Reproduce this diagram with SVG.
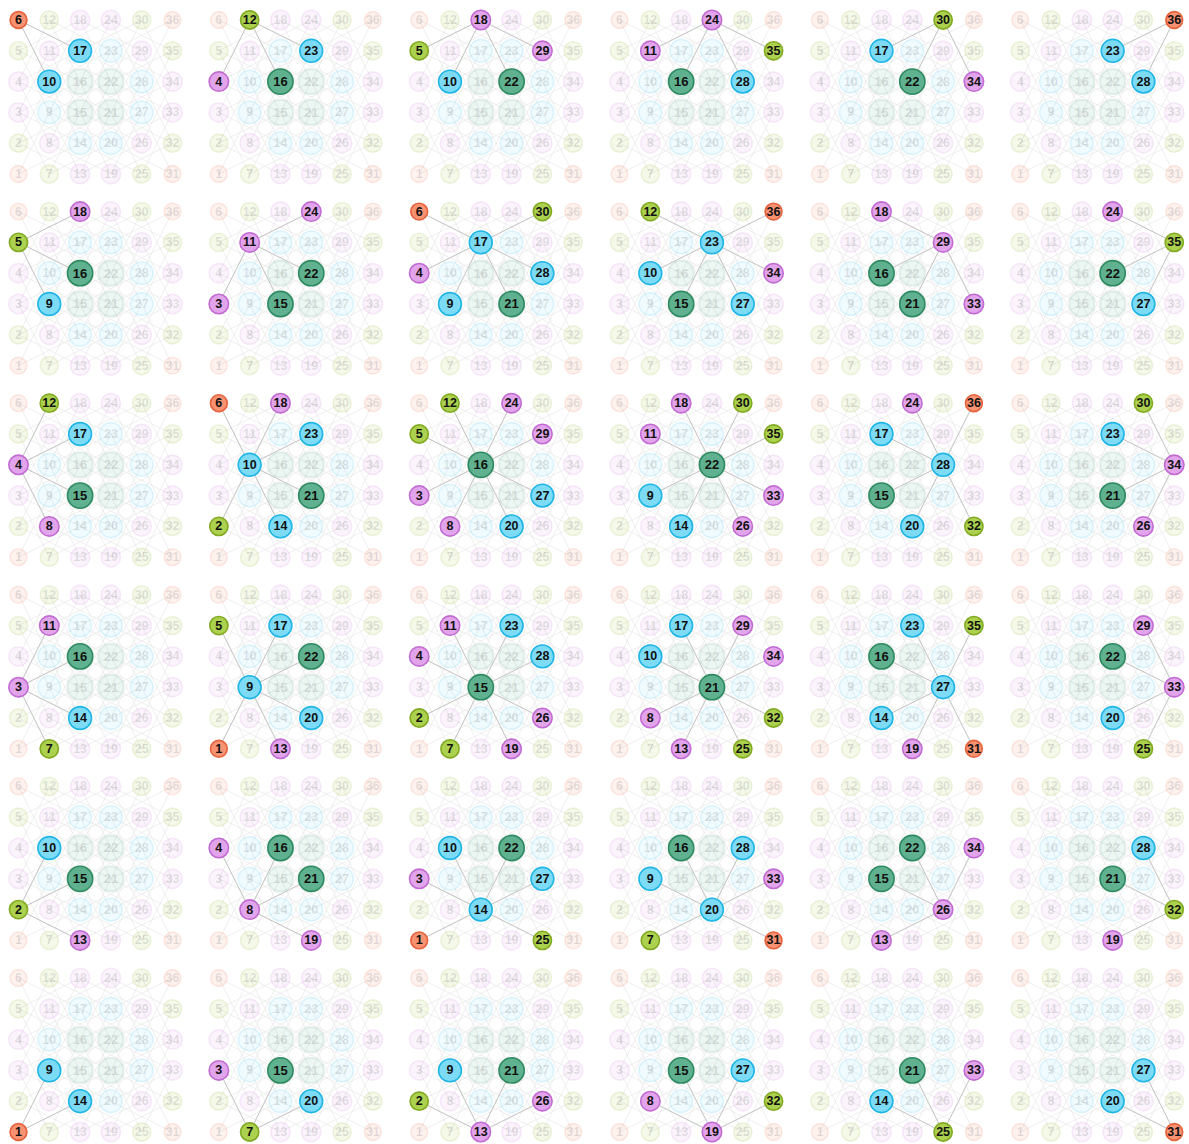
<svg xmlns="http://www.w3.org/2000/svg" width="1189" height="1144" viewBox="0 0 1189 1144">
<style>
text{font-family:"Liberation Sans",Arial,sans-serif;font-weight:bold;font-size:12.5px;text-anchor:middle;dominant-baseline:central;fill:#111}
circle{stroke-width:1.6}
.d2 circle{fill:#f79273;stroke:#e5623c}
.d3 circle{fill:#acd14e;stroke:#82aa22}
.d4 circle{fill:#e2a4ea;stroke:#c26cd3}
.d6 circle{fill:#7edbf6;stroke:#1fb5e5}
.d8 circle{fill:#60b190;stroke:#2c8a60}
.d8 text{font-size:13px}
.f{fill-opacity:.12;stroke-opacity:.13}
.bge{fill:none;stroke:#e6e6e6;stroke-width:.9;stroke-opacity:.7}
.he{fill:none;stroke:#c0c0c0;stroke-width:.9}
</style>
<defs>
<g id="n1" class="d2"><circle cx="18.5" cy="174" r="8.4"/><text x="18.5" y="174">1</text></g>
<g id="n2" class="d3"><circle cx="18.5" cy="143.2" r="9.1"/><text x="18.5" y="143.2">2</text></g>
<g id="n3" class="d4"><circle cx="18.5" cy="112.4" r="9.7"/><text x="18.5" y="112.4">3</text></g>
<g id="n4" class="d4"><circle cx="18.5" cy="81.6" r="9.7"/><text x="18.5" y="81.6">4</text></g>
<g id="n5" class="d3"><circle cx="18.5" cy="50.8" r="9.1"/><text x="18.5" y="50.8">5</text></g>
<g id="n6" class="d2"><circle cx="18.5" cy="20" r="8.4"/><text x="18.5" y="20">6</text></g>
<g id="n7" class="d3"><circle cx="49.3" cy="174" r="9.1"/><text x="49.3" y="174">7</text></g>
<g id="n8" class="d4"><circle cx="49.3" cy="143.2" r="9.7"/><text x="49.3" y="143.2">8</text></g>
<g id="n9" class="d6"><circle cx="49.3" cy="112.4" r="11.4"/><text x="49.3" y="112.4">9</text></g>
<g id="n10" class="d6"><circle cx="49.3" cy="81.6" r="11.4"/><text x="49.3" y="81.6">10</text></g>
<g id="n11" class="d4"><circle cx="49.3" cy="50.8" r="9.7"/><text x="49.3" y="50.8">11</text></g>
<g id="n12" class="d3"><circle cx="49.3" cy="20" r="9.1"/><text x="49.3" y="20">12</text></g>
<g id="n13" class="d4"><circle cx="80.1" cy="174" r="9.7"/><text x="80.1" y="174">13</text></g>
<g id="n14" class="d6"><circle cx="80.1" cy="143.2" r="11.4"/><text x="80.1" y="143.2">14</text></g>
<g id="n15" class="d8"><circle cx="80.1" cy="112.4" r="12.6"/><text x="80.1" y="112.4">15</text></g>
<g id="n16" class="d8"><circle cx="80.1" cy="81.6" r="12.6"/><text x="80.1" y="81.6">16</text></g>
<g id="n17" class="d6"><circle cx="80.1" cy="50.8" r="11.4"/><text x="80.1" y="50.8">17</text></g>
<g id="n18" class="d4"><circle cx="80.1" cy="20" r="9.7"/><text x="80.1" y="20">18</text></g>
<g id="n19" class="d4"><circle cx="110.9" cy="174" r="9.7"/><text x="110.9" y="174">19</text></g>
<g id="n20" class="d6"><circle cx="110.9" cy="143.2" r="11.4"/><text x="110.9" y="143.2">20</text></g>
<g id="n21" class="d8"><circle cx="110.9" cy="112.4" r="12.6"/><text x="110.9" y="112.4">21</text></g>
<g id="n22" class="d8"><circle cx="110.9" cy="81.6" r="12.6"/><text x="110.9" y="81.6">22</text></g>
<g id="n23" class="d6"><circle cx="110.9" cy="50.8" r="11.4"/><text x="110.9" y="50.8">23</text></g>
<g id="n24" class="d4"><circle cx="110.9" cy="20" r="9.7"/><text x="110.9" y="20">24</text></g>
<g id="n25" class="d3"><circle cx="141.7" cy="174" r="9.1"/><text x="141.7" y="174">25</text></g>
<g id="n26" class="d4"><circle cx="141.7" cy="143.2" r="9.7"/><text x="141.7" y="143.2">26</text></g>
<g id="n27" class="d6"><circle cx="141.7" cy="112.4" r="11.4"/><text x="141.7" y="112.4">27</text></g>
<g id="n28" class="d6"><circle cx="141.7" cy="81.6" r="11.4"/><text x="141.7" y="81.6">28</text></g>
<g id="n29" class="d4"><circle cx="141.7" cy="50.8" r="9.7"/><text x="141.7" y="50.8">29</text></g>
<g id="n30" class="d3"><circle cx="141.7" cy="20" r="9.1"/><text x="141.7" y="20">30</text></g>
<g id="n31" class="d2"><circle cx="172.5" cy="174" r="8.4"/><text x="172.5" y="174">31</text></g>
<g id="n32" class="d3"><circle cx="172.5" cy="143.2" r="9.1"/><text x="172.5" y="143.2">32</text></g>
<g id="n33" class="d4"><circle cx="172.5" cy="112.4" r="9.7"/><text x="172.5" y="112.4">33</text></g>
<g id="n34" class="d4"><circle cx="172.5" cy="81.6" r="9.7"/><text x="172.5" y="81.6">34</text></g>
<g id="n35" class="d3"><circle cx="172.5" cy="50.8" r="9.1"/><text x="172.5" y="50.8">35</text></g>
<g id="n36" class="d2"><circle cx="172.5" cy="20" r="8.4"/><text x="172.5" y="20">36</text></g>
<g id="bg">
<path class="bge" d="M18.5 174l30.8-61.6M18.5 143.2l30.8-61.6M18.5 112.4l30.8-61.6M18.5 81.6l30.8-61.6M49.3 174l30.8-61.6M49.3 143.2l30.8-61.6M49.3 112.4l30.8-61.6M49.3 81.6l30.8-61.6M80.1 174l30.8-61.6M80.1 143.2l30.8-61.6M80.1 112.4l30.8-61.6M80.1 81.6l30.8-61.6M110.9 174l30.8-61.6M110.9 143.2l30.8-61.6M110.9 112.4l30.8-61.6M110.9 81.6l30.8-61.6M141.7 174l30.8-61.6M141.7 143.2l30.8-61.6M141.7 112.4l30.8-61.6M141.7 81.6l30.8-61.6
M18.5 112.4l30.8 61.6M18.5 81.6l30.8 61.6M18.5 50.8l30.8 61.6M18.5 20l30.8 61.6M49.3 112.4l30.8 61.6M49.3 81.6l30.8 61.6M49.3 50.8l30.8 61.6M49.3 20l30.8 61.6M80.1 112.4l30.8 61.6M80.1 81.6l30.8 61.6M80.1 50.8l30.8 61.6M80.1 20l30.8 61.6M110.9 112.4l30.8 61.6M110.9 81.6l30.8 61.6M110.9 50.8l30.8 61.6M110.9 20l30.8 61.6M141.7 112.4l30.8 61.6M141.7 81.6l30.8 61.6M141.7 50.8l30.8 61.6M141.7 20l30.8 61.6
M18.5 174l61.6-30.8M18.5 143.2l61.6-30.8M18.5 112.4l61.6-30.8M18.5 81.6l61.6-30.8M18.5 50.8l61.6-30.8M49.3 174l61.6-30.8M49.3 143.2l61.6-30.8M49.3 112.4l61.6-30.8M49.3 81.6l61.6-30.8M49.3 50.8l61.6-30.8M80.1 174l61.6-30.8M80.1 143.2l61.6-30.8M80.1 112.4l61.6-30.8M80.1 81.6l61.6-30.8M80.1 50.8l61.6-30.8M110.9 174l61.6-30.8M110.9 143.2l61.6-30.8M110.9 112.4l61.6-30.8M110.9 81.6l61.6-30.8M110.9 50.8l61.6-30.8
M18.5 143.2l61.6 30.8M18.5 112.4l61.6 30.8M18.5 81.6l61.6 30.8M18.5 50.8l61.6 30.8M18.5 20l61.6 30.8M49.3 143.2l61.6 30.8M49.3 112.4l61.6 30.8M49.3 81.6l61.6 30.8M49.3 50.8l61.6 30.8M49.3 20l61.6 30.8M80.1 143.2l61.6 30.8M80.1 112.4l61.6 30.8M80.1 81.6l61.6 30.8M80.1 50.8l61.6 30.8M80.1 20l61.6 30.8M110.9 143.2l61.6 30.8M110.9 112.4l61.6 30.8M110.9 81.6l61.6 30.8M110.9 50.8l61.6 30.8M110.9 20l61.6 30.8"/>
<use class="f" href="#n1"/><use class="f" href="#n2"/><use class="f" href="#n3"/><use class="f" href="#n4"/><use class="f" href="#n5"/><use class="f" href="#n6"/>
<use class="f" href="#n7"/><use class="f" href="#n8"/><use class="f" href="#n9"/><use class="f" href="#n10"/><use class="f" href="#n11"/><use class="f" href="#n12"/>
<use class="f" href="#n13"/><use class="f" href="#n14"/><use class="f" href="#n15"/><use class="f" href="#n16"/><use class="f" href="#n17"/><use class="f" href="#n18"/>
<use class="f" href="#n19"/><use class="f" href="#n20"/><use class="f" href="#n21"/><use class="f" href="#n22"/><use class="f" href="#n23"/><use class="f" href="#n24"/>
<use class="f" href="#n25"/><use class="f" href="#n26"/><use class="f" href="#n27"/><use class="f" href="#n28"/><use class="f" href="#n29"/><use class="f" href="#n30"/>
<use class="f" href="#n31"/><use class="f" href="#n32"/><use class="f" href="#n33"/><use class="f" href="#n34"/><use class="f" href="#n35"/><use class="f" href="#n36"/>
</g>
</defs>
<rect width="1189" height="1144" fill="#fff"/>

<g id="panel-6" transform="translate(0 0)"><use href="#bg"/><g class="links"><path class="he" d="M18.5 20L49.3 81.6M18.5 20L80.1 50.8"/></g><use id="p6-n6" href="#n6"/><use id="p6-n10" href="#n10"/><use id="p6-n17" href="#n17"/></g>
<g id="panel-12" transform="translate(200.35 0)"><use href="#bg"/><g class="links"><path class="he" d="M49.3 20L18.5 81.6M49.3 20L80.1 81.6M49.3 20L110.9 50.8"/></g><use id="p12-n12" href="#n12"/><use id="p12-n4" href="#n4"/><use id="p12-n16" href="#n16"/><use id="p12-n23" href="#n23"/></g>
<g id="panel-18" transform="translate(400.7 0)"><use href="#bg"/><g class="links"><path class="he" d="M80.1 20L49.3 81.6M80.1 20L110.9 81.6M80.1 20L18.5 50.8M80.1 20L141.7 50.8"/></g><use id="p18-n18" href="#n18"/><use id="p18-n10" href="#n10"/><use id="p18-n22" href="#n22"/><use id="p18-n5" href="#n5"/><use id="p18-n29" href="#n29"/></g>
<g id="panel-24" transform="translate(601.05 0)"><use href="#bg"/><g class="links"><path class="he" d="M110.9 20L80.1 81.6M110.9 20L141.7 81.6M110.9 20L49.3 50.8M110.9 20L172.5 50.8"/></g><use id="p24-n24" href="#n24"/><use id="p24-n16" href="#n16"/><use id="p24-n28" href="#n28"/><use id="p24-n11" href="#n11"/><use id="p24-n35" href="#n35"/></g>
<g id="panel-30" transform="translate(801.4 0)"><use href="#bg"/><g class="links"><path class="he" d="M141.7 20L110.9 81.6M141.7 20L172.5 81.6M141.7 20L80.1 50.8"/></g><use id="p30-n30" href="#n30"/><use id="p30-n22" href="#n22"/><use id="p30-n34" href="#n34"/><use id="p30-n17" href="#n17"/></g>
<g id="panel-36" transform="translate(1001.75 0)"><use href="#bg"/><g class="links"><path class="he" d="M172.5 20L141.7 81.6M172.5 20L110.9 50.8"/></g><use id="p36-n36" href="#n36"/><use id="p36-n28" href="#n28"/><use id="p36-n23" href="#n23"/></g>

<g id="panel-5" transform="translate(0 191.6)"><use href="#bg"/><g class="links"><path class="he" d="M18.5 50.8L49.3 112.4M18.5 50.8L80.1 81.6M18.5 50.8L80.1 20"/></g><use id="p5-n5" href="#n5"/><use id="p5-n9" href="#n9"/><use id="p5-n16" href="#n16"/><use id="p5-n18" href="#n18"/></g>
<g id="panel-11" transform="translate(200.35 191.6)"><use href="#bg"/><g class="links"><path class="he" d="M49.3 50.8L18.5 112.4M49.3 50.8L80.1 112.4M49.3 50.8L110.9 81.6M49.3 50.8L110.9 20"/></g><use id="p11-n11" href="#n11"/><use id="p11-n3" href="#n3"/><use id="p11-n15" href="#n15"/><use id="p11-n22" href="#n22"/><use id="p11-n24" href="#n24"/></g>
<g id="panel-17" transform="translate(400.7 191.6)"><use href="#bg"/><g class="links"><path class="he" d="M80.1 50.8L49.3 112.4M80.1 50.8L110.9 112.4M80.1 50.8L18.5 81.6M80.1 50.8L18.5 20M80.1 50.8L141.7 81.6M80.1 50.8L141.7 20"/></g><use id="p17-n17" href="#n17"/><use id="p17-n9" href="#n9"/><use id="p17-n21" href="#n21"/><use id="p17-n4" href="#n4"/><use id="p17-n6" href="#n6"/><use id="p17-n28" href="#n28"/><use id="p17-n30" href="#n30"/></g>
<g id="panel-23" transform="translate(601.05 191.6)"><use href="#bg"/><g class="links"><path class="he" d="M110.9 50.8L80.1 112.4M110.9 50.8L141.7 112.4M110.9 50.8L49.3 81.6M110.9 50.8L49.3 20M110.9 50.8L172.5 81.6M110.9 50.8L172.5 20"/></g><use id="p23-n23" href="#n23"/><use id="p23-n15" href="#n15"/><use id="p23-n27" href="#n27"/><use id="p23-n10" href="#n10"/><use id="p23-n12" href="#n12"/><use id="p23-n34" href="#n34"/><use id="p23-n36" href="#n36"/></g>
<g id="panel-29" transform="translate(801.4 191.6)"><use href="#bg"/><g class="links"><path class="he" d="M141.7 50.8L110.9 112.4M141.7 50.8L172.5 112.4M141.7 50.8L80.1 81.6M141.7 50.8L80.1 20"/></g><use id="p29-n29" href="#n29"/><use id="p29-n21" href="#n21"/><use id="p29-n33" href="#n33"/><use id="p29-n16" href="#n16"/><use id="p29-n18" href="#n18"/></g>
<g id="panel-35" transform="translate(1001.75 191.6)"><use href="#bg"/><g class="links"><path class="he" d="M172.5 50.8L141.7 112.4M172.5 50.8L110.9 81.6M172.5 50.8L110.9 20"/></g><use id="p35-n35" href="#n35"/><use id="p35-n27" href="#n27"/><use id="p35-n22" href="#n22"/><use id="p35-n24" href="#n24"/></g>

<g id="panel-4" transform="translate(0 383.2)"><use href="#bg"/><g class="links"><path class="he" d="M18.5 81.6L49.3 143.2M18.5 81.6L49.3 20M18.5 81.6L80.1 112.4M18.5 81.6L80.1 50.8"/></g><use id="p4-n4" href="#n4"/><use id="p4-n8" href="#n8"/><use id="p4-n12" href="#n12"/><use id="p4-n15" href="#n15"/><use id="p4-n17" href="#n17"/></g>
<g id="panel-10" transform="translate(200.35 383.2)"><use href="#bg"/><g class="links"><path class="he" d="M49.3 81.6L18.5 143.2M49.3 81.6L18.5 20M49.3 81.6L80.1 143.2M49.3 81.6L80.1 20M49.3 81.6L110.9 112.4M49.3 81.6L110.9 50.8"/></g><use id="p10-n10" href="#n10"/><use id="p10-n2" href="#n2"/><use id="p10-n6" href="#n6"/><use id="p10-n14" href="#n14"/><use id="p10-n18" href="#n18"/><use id="p10-n21" href="#n21"/><use id="p10-n23" href="#n23"/></g>
<g id="panel-16" transform="translate(400.7 383.2)"><use href="#bg"/><g class="links"><path class="he" d="M80.1 81.6L49.3 143.2M80.1 81.6L49.3 20M80.1 81.6L110.9 143.2M80.1 81.6L110.9 20M80.1 81.6L18.5 112.4M80.1 81.6L18.5 50.8M80.1 81.6L141.7 112.4M80.1 81.6L141.7 50.8"/></g><use id="p16-n16" href="#n16"/><use id="p16-n8" href="#n8"/><use id="p16-n12" href="#n12"/><use id="p16-n20" href="#n20"/><use id="p16-n24" href="#n24"/><use id="p16-n3" href="#n3"/><use id="p16-n5" href="#n5"/><use id="p16-n27" href="#n27"/><use id="p16-n29" href="#n29"/></g>
<g id="panel-22" transform="translate(601.05 383.2)"><use href="#bg"/><g class="links"><path class="he" d="M110.9 81.6L80.1 143.2M110.9 81.6L80.1 20M110.9 81.6L141.7 143.2M110.9 81.6L141.7 20M110.9 81.6L49.3 112.4M110.9 81.6L49.3 50.8M110.9 81.6L172.5 112.4M110.9 81.6L172.5 50.8"/></g><use id="p22-n22" href="#n22"/><use id="p22-n14" href="#n14"/><use id="p22-n18" href="#n18"/><use id="p22-n26" href="#n26"/><use id="p22-n30" href="#n30"/><use id="p22-n9" href="#n9"/><use id="p22-n11" href="#n11"/><use id="p22-n33" href="#n33"/><use id="p22-n35" href="#n35"/></g>
<g id="panel-28" transform="translate(801.4 383.2)"><use href="#bg"/><g class="links"><path class="he" d="M141.7 81.6L110.9 143.2M141.7 81.6L110.9 20M141.7 81.6L172.5 143.2M141.7 81.6L172.5 20M141.7 81.6L80.1 112.4M141.7 81.6L80.1 50.8"/></g><use id="p28-n28" href="#n28"/><use id="p28-n20" href="#n20"/><use id="p28-n24" href="#n24"/><use id="p28-n32" href="#n32"/><use id="p28-n36" href="#n36"/><use id="p28-n15" href="#n15"/><use id="p28-n17" href="#n17"/></g>
<g id="panel-34" transform="translate(1001.75 383.2)"><use href="#bg"/><g class="links"><path class="he" d="M172.5 81.6L141.7 143.2M172.5 81.6L141.7 20M172.5 81.6L110.9 112.4M172.5 81.6L110.9 50.8"/></g><use id="p34-n34" href="#n34"/><use id="p34-n26" href="#n26"/><use id="p34-n30" href="#n30"/><use id="p34-n21" href="#n21"/><use id="p34-n23" href="#n23"/></g>

<g id="panel-3" transform="translate(0 574.8)"><use href="#bg"/><g class="links"><path class="he" d="M18.5 112.4L49.3 174M18.5 112.4L49.3 50.8M18.5 112.4L80.1 143.2M18.5 112.4L80.1 81.6"/></g><use id="p3-n3" href="#n3"/><use id="p3-n7" href="#n7"/><use id="p3-n11" href="#n11"/><use id="p3-n14" href="#n14"/><use id="p3-n16" href="#n16"/></g>
<g id="panel-9" transform="translate(200.35 574.8)"><use href="#bg"/><g class="links"><path class="he" d="M49.3 112.4L18.5 174M49.3 112.4L18.5 50.8M49.3 112.4L80.1 174M49.3 112.4L80.1 50.8M49.3 112.4L110.9 143.2M49.3 112.4L110.9 81.6"/></g><use id="p9-n9" href="#n9"/><use id="p9-n1" href="#n1"/><use id="p9-n5" href="#n5"/><use id="p9-n13" href="#n13"/><use id="p9-n17" href="#n17"/><use id="p9-n20" href="#n20"/><use id="p9-n22" href="#n22"/></g>
<g id="panel-15" transform="translate(400.7 574.8)"><use href="#bg"/><g class="links"><path class="he" d="M80.1 112.4L49.3 174M80.1 112.4L49.3 50.8M80.1 112.4L110.9 174M80.1 112.4L110.9 50.8M80.1 112.4L18.5 143.2M80.1 112.4L18.5 81.6M80.1 112.4L141.7 143.2M80.1 112.4L141.7 81.6"/></g><use id="p15-n15" href="#n15"/><use id="p15-n7" href="#n7"/><use id="p15-n11" href="#n11"/><use id="p15-n19" href="#n19"/><use id="p15-n23" href="#n23"/><use id="p15-n2" href="#n2"/><use id="p15-n4" href="#n4"/><use id="p15-n26" href="#n26"/><use id="p15-n28" href="#n28"/></g>
<g id="panel-21" transform="translate(601.05 574.8)"><use href="#bg"/><g class="links"><path class="he" d="M110.9 112.4L80.1 174M110.9 112.4L80.1 50.8M110.9 112.4L141.7 174M110.9 112.4L141.7 50.8M110.9 112.4L49.3 143.2M110.9 112.4L49.3 81.6M110.9 112.4L172.5 143.2M110.9 112.4L172.5 81.6"/></g><use id="p21-n21" href="#n21"/><use id="p21-n13" href="#n13"/><use id="p21-n17" href="#n17"/><use id="p21-n25" href="#n25"/><use id="p21-n29" href="#n29"/><use id="p21-n8" href="#n8"/><use id="p21-n10" href="#n10"/><use id="p21-n32" href="#n32"/><use id="p21-n34" href="#n34"/></g>
<g id="panel-27" transform="translate(801.4 574.8)"><use href="#bg"/><g class="links"><path class="he" d="M141.7 112.4L110.9 174M141.7 112.4L110.9 50.8M141.7 112.4L172.5 174M141.7 112.4L172.5 50.8M141.7 112.4L80.1 143.2M141.7 112.4L80.1 81.6"/></g><use id="p27-n27" href="#n27"/><use id="p27-n19" href="#n19"/><use id="p27-n23" href="#n23"/><use id="p27-n31" href="#n31"/><use id="p27-n35" href="#n35"/><use id="p27-n14" href="#n14"/><use id="p27-n16" href="#n16"/></g>
<g id="panel-33" transform="translate(1001.75 574.8)"><use href="#bg"/><g class="links"><path class="he" d="M172.5 112.4L141.7 174M172.5 112.4L141.7 50.8M172.5 112.4L110.9 143.2M172.5 112.4L110.9 81.6"/></g><use id="p33-n33" href="#n33"/><use id="p33-n25" href="#n25"/><use id="p33-n29" href="#n29"/><use id="p33-n20" href="#n20"/><use id="p33-n22" href="#n22"/></g>

<g id="panel-2" transform="translate(0 766.4)"><use href="#bg"/><g class="links"><path class="he" d="M18.5 143.2L49.3 81.6M18.5 143.2L80.1 174M18.5 143.2L80.1 112.4"/></g><use id="p2-n2" href="#n2"/><use id="p2-n10" href="#n10"/><use id="p2-n13" href="#n13"/><use id="p2-n15" href="#n15"/></g>
<g id="panel-8" transform="translate(200.35 766.4)"><use href="#bg"/><g class="links"><path class="he" d="M49.3 143.2L18.5 81.6M49.3 143.2L80.1 81.6M49.3 143.2L110.9 174M49.3 143.2L110.9 112.4"/></g><use id="p8-n8" href="#n8"/><use id="p8-n4" href="#n4"/><use id="p8-n16" href="#n16"/><use id="p8-n19" href="#n19"/><use id="p8-n21" href="#n21"/></g>
<g id="panel-14" transform="translate(400.7 766.4)"><use href="#bg"/><g class="links"><path class="he" d="M80.1 143.2L49.3 81.6M80.1 143.2L110.9 81.6M80.1 143.2L18.5 174M80.1 143.2L18.5 112.4M80.1 143.2L141.7 174M80.1 143.2L141.7 112.4"/></g><use id="p14-n14" href="#n14"/><use id="p14-n10" href="#n10"/><use id="p14-n22" href="#n22"/><use id="p14-n1" href="#n1"/><use id="p14-n3" href="#n3"/><use id="p14-n25" href="#n25"/><use id="p14-n27" href="#n27"/></g>
<g id="panel-20" transform="translate(601.05 766.4)"><use href="#bg"/><g class="links"><path class="he" d="M110.9 143.2L80.1 81.6M110.9 143.2L141.7 81.6M110.9 143.2L49.3 174M110.9 143.2L49.3 112.4M110.9 143.2L172.5 174M110.9 143.2L172.5 112.4"/></g><use id="p20-n20" href="#n20"/><use id="p20-n16" href="#n16"/><use id="p20-n28" href="#n28"/><use id="p20-n7" href="#n7"/><use id="p20-n9" href="#n9"/><use id="p20-n31" href="#n31"/><use id="p20-n33" href="#n33"/></g>
<g id="panel-26" transform="translate(801.4 766.4)"><use href="#bg"/><g class="links"><path class="he" d="M141.7 143.2L110.9 81.6M141.7 143.2L172.5 81.6M141.7 143.2L80.1 174M141.7 143.2L80.1 112.4"/></g><use id="p26-n26" href="#n26"/><use id="p26-n22" href="#n22"/><use id="p26-n34" href="#n34"/><use id="p26-n13" href="#n13"/><use id="p26-n15" href="#n15"/></g>
<g id="panel-32" transform="translate(1001.75 766.4)"><use href="#bg"/><g class="links"><path class="he" d="M172.5 143.2L141.7 81.6M172.5 143.2L110.9 174M172.5 143.2L110.9 112.4"/></g><use id="p32-n32" href="#n32"/><use id="p32-n28" href="#n28"/><use id="p32-n19" href="#n19"/><use id="p32-n21" href="#n21"/></g>

<g id="panel-1" transform="translate(0 958)"><use href="#bg"/><g class="links"><path class="he" d="M18.5 174L49.3 112.4M18.5 174L80.1 143.2"/></g><use id="p1-n1" href="#n1"/><use id="p1-n9" href="#n9"/><use id="p1-n14" href="#n14"/></g>
<g id="panel-7" transform="translate(200.35 958)"><use href="#bg"/><g class="links"><path class="he" d="M49.3 174L18.5 112.4M49.3 174L80.1 112.4M49.3 174L110.9 143.2"/></g><use id="p7-n7" href="#n7"/><use id="p7-n3" href="#n3"/><use id="p7-n15" href="#n15"/><use id="p7-n20" href="#n20"/></g>
<g id="panel-13" transform="translate(400.7 958)"><use href="#bg"/><g class="links"><path class="he" d="M80.1 174L49.3 112.4M80.1 174L110.9 112.4M80.1 174L18.5 143.2M80.1 174L141.7 143.2"/></g><use id="p13-n13" href="#n13"/><use id="p13-n9" href="#n9"/><use id="p13-n21" href="#n21"/><use id="p13-n2" href="#n2"/><use id="p13-n26" href="#n26"/></g>
<g id="panel-19" transform="translate(601.05 958)"><use href="#bg"/><g class="links"><path class="he" d="M110.9 174L80.1 112.4M110.9 174L141.7 112.4M110.9 174L49.3 143.2M110.9 174L172.5 143.2"/></g><use id="p19-n19" href="#n19"/><use id="p19-n15" href="#n15"/><use id="p19-n27" href="#n27"/><use id="p19-n8" href="#n8"/><use id="p19-n32" href="#n32"/></g>
<g id="panel-25" transform="translate(801.4 958)"><use href="#bg"/><g class="links"><path class="he" d="M141.7 174L110.9 112.4M141.7 174L172.5 112.4M141.7 174L80.1 143.2"/></g><use id="p25-n25" href="#n25"/><use id="p25-n21" href="#n21"/><use id="p25-n33" href="#n33"/><use id="p25-n14" href="#n14"/></g>
<g id="panel-31" transform="translate(1001.75 958)"><use href="#bg"/><g class="links"><path class="he" d="M172.5 174L141.7 112.4M172.5 174L110.9 143.2"/></g><use id="p31-n31" href="#n31"/><use id="p31-n27" href="#n27"/><use id="p31-n20" href="#n20"/></g>
</svg>
